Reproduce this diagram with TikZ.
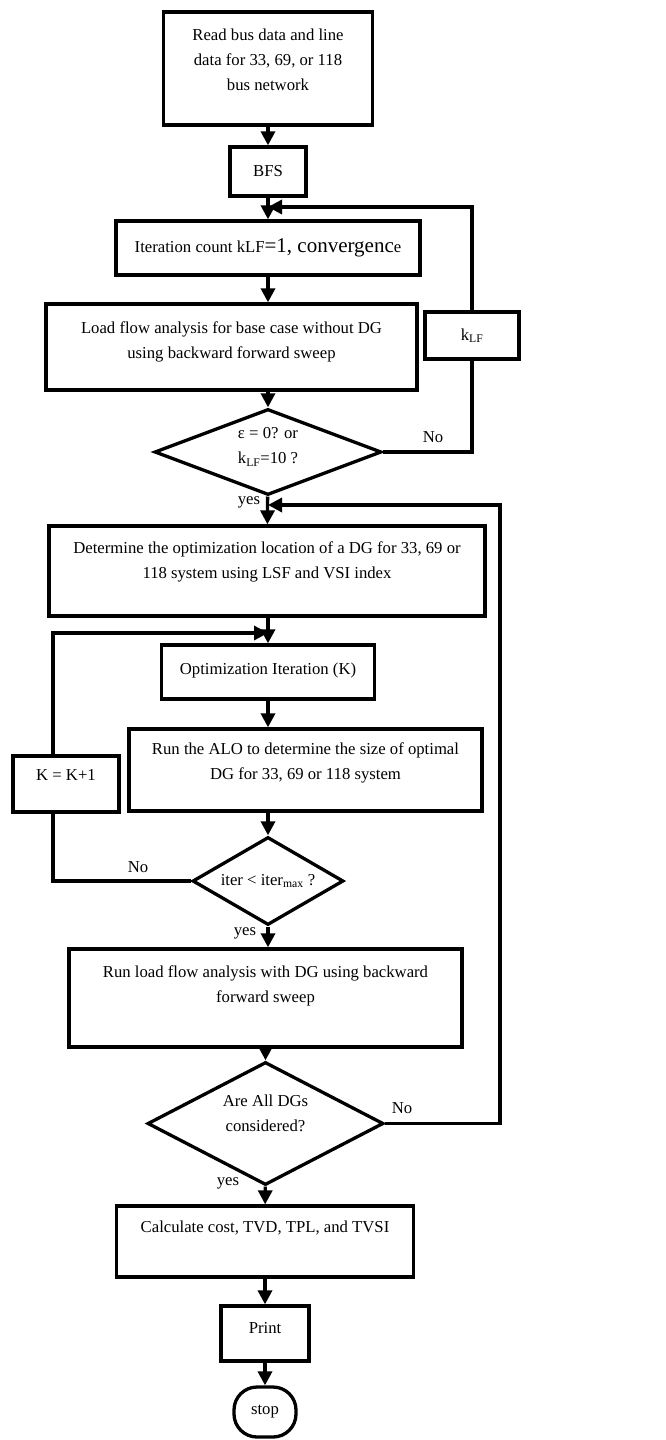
\documentclass[tikz,border=0pt]{standalone}
\usepackage{fontspec}
\setmainfont{Liberation Serif}
\usetikzlibrary{arrows.meta}
\usetikzlibrary{shapes.geometric}

\begin{document}
\begin{tikzpicture}[x=1pt,y=-1pt,line width=3.3pt,
  font=\fontsize{16.7}{25}\selectfont,
  box/.style={draw,rectangle,align=center,inner sep=0pt},
  dec/.style={draw,diamond,align=center,inner sep=0pt},
  arr/.style={-{Triangle[length=14pt,width=14pt]}}]
\useasboundingbox (0,0) rectangle (666,1440);

\coordinate (J1) at (268,207);
\coordinate (J2) at (268,505);
\coordinate (J3) at (268,633);
\coordinate (R2) at (500,505);
\coordinate (KL) at (53,784);

\node[box,minimum width=209,minimum height=113,text depth=17.6] (read) at (268,68.5)
  {Read bus data and line\\data for 33, 69, or 118\\bus network};
\node[box,minimum width=76,minimum height=49] (bfs) at (268,171.5) {BFS};
\node[box,minimum width=304,minimum height=54] (iter) at (268,248)
  {Iteration count kLF{\fontsize{21}{25}\selectfont =1, convergenc}e};
\node[box,minimum width=371,minimum height=86,text depth=13.6] (load) at (231.5,347)
  {Load flow analysis for base case without DG\\using backward forward sweep};
\node[box,minimum width=94,minimum height=47] (klf) at (472,335.5) {k\textsubscript{LF}};
\node[dec,minimum width=227,minimum height=86,aspect=2.64,text depth=12.6] (dia1) at (268,452)
  {ε = 0? or\\k\textsubscript{LF}=10 ?};
\node[box,minimum width=436,minimum height=90,text depth=21.6] (det) at (267,571)
  {Determine the optimization location of a DG for 33, 69 or\\118 system using LSF and VSI index};
\node[box,minimum width=213,minimum height=54,text depth=7.6] (opt) at (268,672)
  {Optimization Iteration (K)};
\node[box,minimum width=353,minimum height=82,text depth=18.6] (alo) at (305.5,770)
  {Run the ALO to determine the size of optimal\\DG for 33, 69 or 118 system};
\node[box,minimum width=106,minimum height=56,text depth=17.6] (kinc) at (66,784) {K = K+1};
\node[dec,minimum width=151,minimum height=88,aspect=1.72] (dia2) at (268,881)
  {iter < iter\textsubscript{max} ?};
\node[box,minimum width=393,minimum height=98,text depth=28.6] (runlf) at (265.5,998)
  {Run load flow analysis with DG using backward\\forward sweep};
\node[dec,minimum width=236,minimum height=123,aspect=1.92,text depth=20.6] (dia3) at (265.5,1123.5)
  {Are All DGs\\considered?};
\node[box,minimum width=297,minimum height=71,text depth=30.6] (calc) at (265,1241.5)
  {Calculate cost, TVD, TPL, and TVSI};
\node[box,minimum width=88,minimum height=55,text depth=10.6] (print) at (265,1333.5) {Print};
\node[box,minimum width=62,minimum height=50,rounded corners=23pt] (stop) at (265,1412) {stop};

\node (no1) at (433,437) {No};
\node (yes1) at (249,502) {yes};
\node (no2) at (138,867) {No};
\node (yes2) at (245,933) {yes};
\node (no3) at (402,1108) {No};
\node (yes3) at (228,1183) {yes};

\draw[arr] (read) -- (bfs);
\draw[arr] (bfs) -- (iter);
\draw[arr] (iter) -- (iter.south |- load.north);
\draw[arr] (load.south -| dia1.north) -- (dia1);
\draw[arr] (dia1) -- (det);
\draw[arr] (det.south -| opt.north) -- (opt);
\draw[arr] (opt) -- (opt.south |- alo.north);
\draw[arr] (alo.south -| dia2.north) -- (dia2);
\draw[arr] (dia2) -- (dia2.south |- runlf.north);
\draw[arr] (runlf) -- (dia3);
\draw[arr] (dia3) -- (calc);
\draw[arr] (calc) -- (print);
\draw[arr] (print) -- (stop);

\draw[arr] (klf.north) |- (J1);
\draw (dia1.east) -| (klf.south);
\draw[arr] (dia3.east) -| (R2) -- (J2);
\draw (dia2.west) -| (KL |- kinc.south);
\draw[arr] (KL |- kinc.north) |- (J3);
\end{tikzpicture}
\end{document}
